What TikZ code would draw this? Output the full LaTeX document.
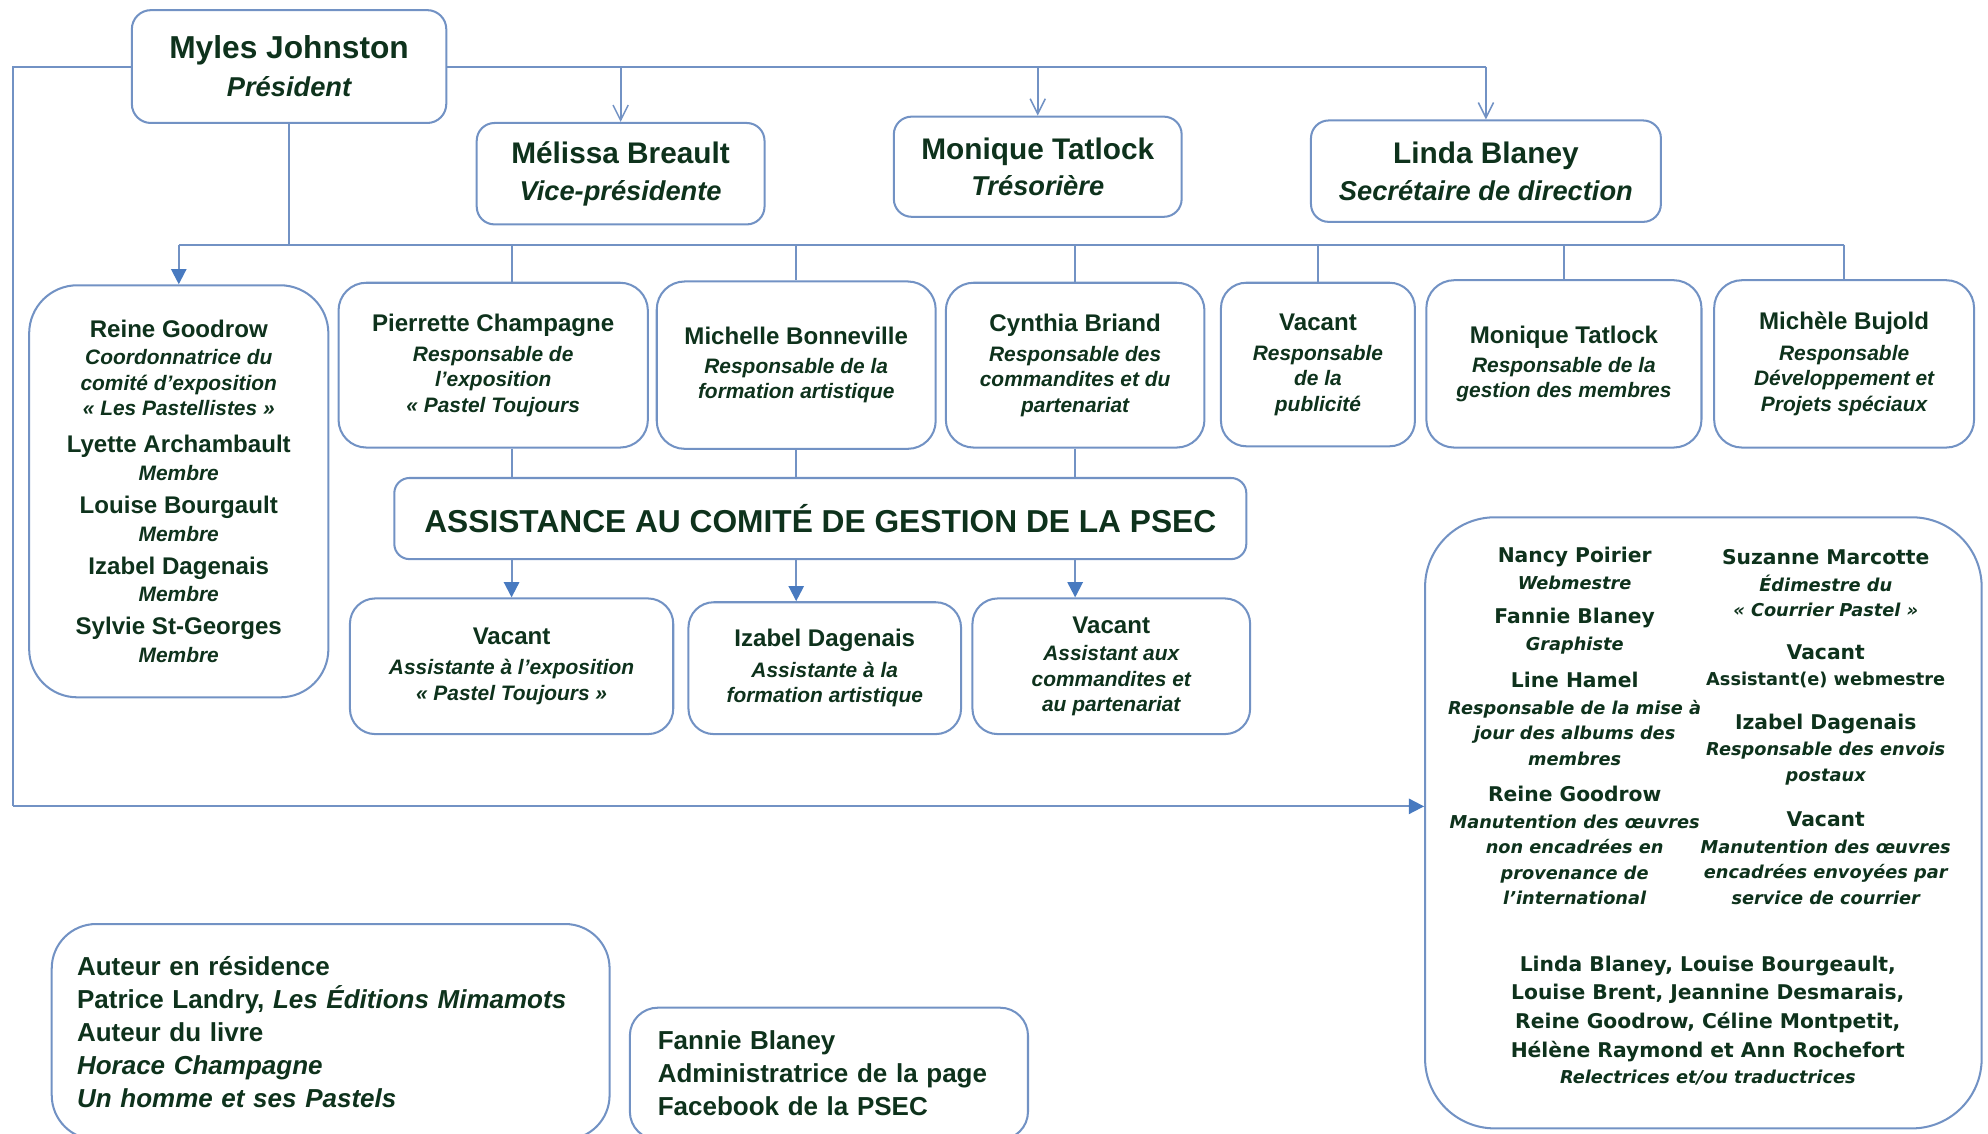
\documentclass[tikz,border=0pt]{standalone}
\usepackage{fontspec}
\setmainfont{Liberation Sans}
\newfontfamily\verdfont{DejaVu Sans}[ItalicFont={DejaVu Sans Oblique},BoldFont={DejaVu Sans Bold},BoldItalicFont={DejaVu Sans Bold Oblique}]
\usetikzlibrary{arrows.meta}
\definecolor{LineClr}{RGB}{114,146,196}
\definecolor{TipClr}{RGB}{72,122,192}
\definecolor{TextClr}{RGB}{14,50,28}

\newcommand{\topfont}{\fontsize{21.5}{28}\selectfont\bfseries\itshape}
\newcommand{\topname}[1]{{\fontsize{23.5}{28}\selectfont\upshape #1}}
\newcommand{\rowfont}{\fontsize{16.5}{20}\selectfont\bfseries\itshape}
\newcommand{\rowname}[1]{{\fontsize{19}{20}\selectfont\upshape #1}}
\newcommand{\pcfont}{\verdfont\fontsize{14}{20}\selectfont\bfseries\itshape}
\newcommand{\pcname}[1]{{\fontsize{16}{20}\selectfont\upshape #1}}

\begin{document}
\begin{tikzpicture}[x=1pt,y=-1pt,
  box/.style={draw=LineClr,line width=1.6pt,rounded corners=#1,fill=white,text=TextClr,align=center,inner sep=0pt},
  box/.default=20pt,
  txt/.style={text=TextClr,align=center,inner sep=0pt,font=\pcfont},
  link/.style={draw=LineClr,line width=1.6pt},
  opentip/.style={-{Straight Barb[length=12pt,width=12pt,line width=1.2pt]}},
  filltip/.style={-{Triangle[length=12pt,width=12pt,color=TipClr]}}]
\useasboundingbox (0,0) rectangle (1568,894);
\clip (0,0) rectangle (1568,894);

\node[box=15pt,minimum width=248pt,minimum height=89pt,font=\topfont] (pres) at (228,52.5)
  {{\fontsize{25}{28}\selectfont\upshape Myles Johnston}\\[2pt] Président};
\node[box=14pt,minimum width=227pt,minimum height=80pt,font=\topfont] (vp) at (489.5,137)
  {\topname{Mélissa Breault}\\[1pt] Vice-présidente};
\node[box=14pt,minimum width=227pt,minimum height=79pt,font=\topfont] (tres) at (818.5,131.5)
  {\topname{Monique Tatlock}\\[1pt] Trésorière};
\node[box=14pt,minimum width=276pt,minimum height=80pt,font=\topfont] (secr) at (1172,135)
  {\topname{Linda Blaney}\\[1pt] Secrétaire de direction};

\node[box=38pt,minimum width=236pt,minimum height=325pt,font=\rowfont] (reine) at (141,387.5)
  {\rowname{Reine Goodrow}\\[2pt] Coordonnatrice du\\ comité d’exposition\\ « Les Pastellistes »\\[9pt]
   \rowname{Lyette Archambault}\\[2pt] Membre\\[6pt] \rowname{Louise Bourgault}\\[2pt] Membre\\[6pt]
   \rowname{Izabel Dagenais}\\[2pt] Membre\\[6pt] \rowname{Sylvie St-Georges}\\[2pt] Membre};
\node[box=22pt,minimum width=244pt,minimum height=130pt,font=\rowfont] (pierr) at (389,288)
  {\rowname{Pierrette Champagne}\\[4pt] Responsable de\\ l’exposition\\ « Pastel Toujours};
\node[box=22pt,minimum width=220pt,minimum height=132pt,font=\rowfont] (mich) at (628,288)
  {\rowname{Michelle Bonneville}\\[3pt] Responsable de la\\ formation artistique};
\node[box=22pt,minimum width=204pt,minimum height=130pt,font=\rowfont] (cynth) at (848,288)
  {\rowname{Cynthia Briand}\\[4pt] Responsable des\\ commandites et du\\ partenariat};
\node[box=20pt,minimum width=153pt,minimum height=129pt,font=\rowfont] (vpub) at (1039.5,287.5)
  {\rowname{Vacant}\\[4pt] Responsable\\ de la\\ publicité};
\node[box=22pt,minimum width=217pt,minimum height=132pt,font=\rowfont] (mtat) at (1233.5,287)
  {\rowname{Monique Tatlock}\\[3pt] Responsable de la\\ gestion des membres};
\node[box=22pt,minimum width=205pt,minimum height=132pt,font=\rowfont] (mbuj) at (1454.5,287)
  {\rowname{Michèle Bujold}\\[4pt] Responsable\\ Développement et\\ Projets spéciaux};

\node[box=12pt,minimum width=672pt,minimum height=64pt,font=\fontsize{25}{30}\selectfont\bfseries] (assist) at (647,409)
  {ASSISTANCE AU COMITÉ DE GESTION DE LA PSEC};

\node[box=20pt,minimum width=255pt,minimum height=107pt,font=\rowfont] (vexp) at (403.5,525.5)
  {\rowname{Vacant}\\[4pt] Assistante à l’exposition\\ « Pastel Toujours »};
\node[box=20pt,minimum width=215pt,minimum height=104pt,font=\rowfont] (izab) at (650.5,527)
  {\rowname{Izabel Dagenais}\\[4pt] Assistante à la\\ formation artistique};
\node[box=20pt,minimum width=219pt,minimum height=107pt,font=\rowfont] (vcomm) at (876.5,525.5)
  {\rowname{Vacant}\\[2pt] Assistant aux\\ commandites et\\ au partenariat};

\node[box=55pt,minimum width=439pt,minimum height=482pt] (webgrp) at (1343.5,649) {};
\node[txt] (npoir) at (1242,448.5) {\pcname{Nancy Poirier}\\[1pt] Webmestre};
\node[txt] (fblan) at (1242,498) {\pcname{Fannie Blaney}\\[1pt] Graphiste};
\node[txt] (lhame) at (1242,567) {\pcname{Line Hamel}\\[1pt] Responsable de la mise à\\ jour des albums des\\ membres};
\node[txt] (rgood) at (1242,667) {\pcname{Reine Goodrow}\\[1pt] Manutention des œuvres\\ non encadrées en\\ provenance de\\ l’international};
\node[txt] (smarc) at (1440,460) {\pcname{Suzanne Marcotte}\\[1pt] Édimestre du\\ « Courrier Pastel »};
\node[txt] (vweb) at (1440,525.5) {\pcname{Vacant}\\[1pt] {\upshape Assistant(e) webmestre}};
\node[txt] (idage) at (1440,591) {\pcname{Izabel Dagenais}\\[1pt] Responsable des envois\\ postaux};
\node[txt] (vcour) at (1440,677) {\pcname{Vacant}\\[1pt] Manutention des œuvres\\ encadrées envoyées par\\ service de courrier};
\node[txt] (relec) at (1347,805) {\pcname{Linda Blaney, Louise Bourgeault,}\\[2.5pt] \pcname{Louise Brent, Jeannine Desmarais,}\\[2.5pt]
  \pcname{Reine Goodrow, Céline Montpetit,}\\[2.5pt] \pcname{Hélène Raymond et Ann Rochefort}\\[1pt] Relectrices et/ou traductrices};

\node[box=35pt,anchor=north west,minimum width=440pt,minimum height=170pt,text width=400pt,align=left,
  font=\fontsize{20.5}{26}\selectfont\bfseries] (auteur) at (40,728)
  {Auteur en résidence\\ Patrice Landry, \textit{Les Éditions Mimamots}\\ Auteur du livre\\ \textit{Horace Champagne}\\ \textit{Un homme et ses Pastels}};
\node[box=22pt,anchor=north west,minimum width=314pt,minimum height=104pt,text width=270pt,align=left,
  font=\fontsize{20.5}{26}\selectfont\bfseries] (fbook) at (496,794)
  {Fannie Blaney\\ Administratrice de la page\\ Facebook de la PSEC};

\coordinate (bus) at (223,193);
\coordinate (loop) at (10,636);

\draw[link] (pres.east) -- (secr.north |- pres.east);
\foreach \n in {vp,tres,secr}
  \draw[link,opentip] (\n.north |- pres.east) -- (\n.north);
\draw[link] (pres.west) -| (loop);
\draw[link,filltip] (loop) -- (loop -| webgrp.west);

\draw[link] (pres.south) -- (pres.south |- bus);
\draw[link] (reine.north |- bus) -- (mbuj.north |- bus);
\draw[link,filltip] (reine.north |- bus) -- (reine.north);
\foreach \n in {vpub,mtat,mbuj}
  \draw[link] (\n.north |- bus) -- (\n.north);
\foreach \col/\up/\low in {vexp/pierr/vexp,mich/mich/izab,cynth/cynth/vcomm}{
  \draw[link] (\col.north |- bus) -- (\col.north |- \up.north);
  \draw[link] (\col.north |- \up.south) -- (\col.north |- assist.north);
  \draw[link,filltip] (\col.north |- assist.south) -- (\col.north |- \low.north);
}
\end{tikzpicture}
\end{document}
